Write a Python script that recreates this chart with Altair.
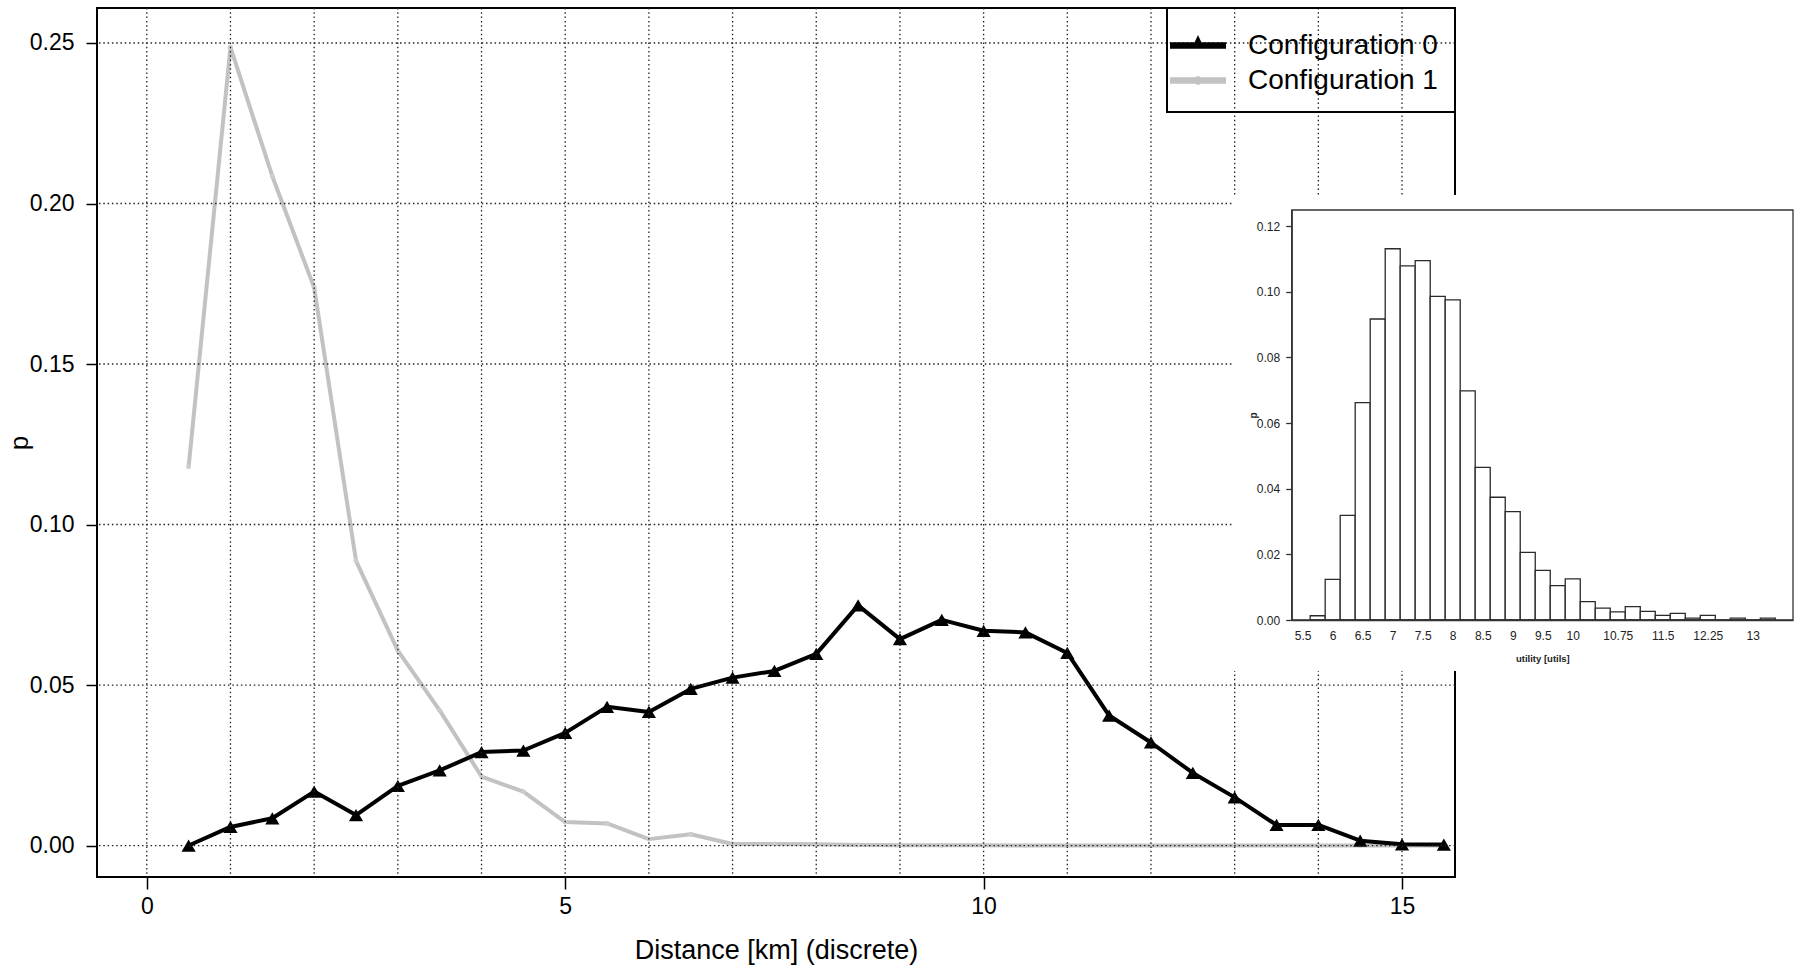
import altair as alt
import pandas as pd

FONT = "Liberation Sans"

# ---------------- main chart data ----------------
distance = [0.5, 1.0, 1.5, 2.0, 2.5, 3.0, 3.5, 4.0, 4.5, 5.0, 5.5, 6.0, 6.5, 7.0, 7.5, 8.0,
            8.5, 9.0, 9.5, 10.0, 10.5, 11.0, 11.5, 12.0, 12.5, 13.0, 13.5, 14.0, 14.5, 15.0, 15.5]
config0 = [0.0000, 0.0058, 0.0085, 0.0168, 0.0095, 0.0186, 0.0234, 0.0291, 0.0296, 0.0351, 0.0432,
           0.0416, 0.0488, 0.0523, 0.0544, 0.0597, 0.0748, 0.0643, 0.0703, 0.0669, 0.0664, 0.0600,
           0.0405, 0.0321, 0.0226, 0.0150, 0.0064, 0.0064, 0.0015, 0.0004, 0.0003]
config1 = [0.1180, 0.2487, 0.2085, 0.1738, 0.0887, 0.0607, 0.0421, 0.0215, 0.0168, 0.0073, 0.0069,
           0.0020, 0.0035, 0.0005, 0.0005, 0.0004, 0.0002, 0.0001, 0.0001, 0.0001, 0.0000, 0.0000,
           0.0000, 0.0000, 0.0000, 0.0000, 0.0000, 0.0000, 0.0000, 0.0000, 0.0000]
series_names = ["Configuration 0", "Configuration 1"]
series_colors = ["#000000", "#c2c2c2"]

main_x_ticks = [0, 5, 10, 15]
main_y_ticks = [0.00, 0.05, 0.10, 0.15, 0.20, 0.25]
grid_x = [0, 1, 2, 3, 4, 5, 6, 7, 8, 9, 10, 11, 12, 13, 14, 15]
grid_y = [0.00, 0.05, 0.10, 0.15, 0.20, 0.25]

# ---------------- inset histogram data ----------------
util_bin_start = [5.625, 5.875, 6.125, 6.375, 6.625, 6.875, 7.125, 7.375, 7.625, 7.875, 8.125,
                  8.375, 8.625, 8.875, 9.125, 9.375, 9.625, 9.875, 10.125, 10.375, 10.625,
                  10.875, 11.125, 11.375, 11.625, 11.875, 12.125, 12.375, 12.625, 12.875, 13.125]
util_p = [0.0013, 0.0124, 0.0319, 0.0662, 0.0917, 0.1131, 0.1079, 0.1095, 0.0986, 0.0975, 0.0698,
          0.0465, 0.0374, 0.0330, 0.0206, 0.0151, 0.0105, 0.0125, 0.0056, 0.0036, 0.0025,
          0.0041, 0.0026, 0.0014, 0.0020, 0.0006, 0.0014, 0.0000, 0.0006, 0.0000, 0.0006]
util_bin_width = 0.25
util_ticks = [5.5, 6, 6.5, 7, 7.5, 8, 8.5, 9, 9.5, 10, 10.75, 11.5, 12.25, 13]
inset_y_ticks = [0.00, 0.02, 0.04, 0.06, 0.08, 0.10, 0.12]

# ---------------- layout (pixels) ----------------
PAD_L, PAD_T, PAD_R, PAD_B = 97, 8, 349, 91
W, H = 1358, 869
X_DOM = [-0.595, 15.633]
Y_DOM = [-0.0098, 0.2609]
IX_DOM = [5.317, 13.67]
IY_DOM = [0.0, 0.1249]
IX_RANGE = [1194.7, 1696.0]
IY_RANGE = [612, 202]

rows = []
for name, vals in zip(series_names, [config0, config1]):
    for d, v in zip(distance, vals):
        rows.append({"distance": d, "p": v, "series": name})
main_df = pd.DataFrame(rows)

x_main = alt.X(
    "distance:Q",
    scale=alt.Scale(domain=X_DOM, nice=False, zero=False),
    axis=alt.Axis(values=main_x_ticks, format="d", title="Distance [km] (discrete)", grid=False,
                  domain=False, tickSize=12, tickColor="black", tickWidth=1.5,
                  labelFont=FONT, labelFontSize=23, labelColor="black", labelPadding=6,
                  titleFont=FONT, titleFontSize=27, titleFontWeight="normal", titleColor="black",
                  titlePadding=19),
)
y_main = alt.Y(
    "p:Q",
    scale=alt.Scale(domain=Y_DOM, nice=False, zero=False),
    axis=alt.Axis(values=main_y_ticks, format=".2f", title="p", grid=False, domain=False,
                  tickSize=11, tickColor="black", tickWidth=1.5,
                  labelFont=FONT, labelFontSize=23, labelColor="black", labelPadding=12,
                  titleFont=FONT, titleFontSize=26, titleFontWeight="normal", titleColor="black",
                  titleX=-78, titleBaseline="middle"),
)

# legend symbols: thick line with the series marker on it (first move-to only sets the entry height)
P0 = ("M0,-1.29 M-2,-0.24L2,-0.24L2,0.24L-2,0.24Z "
      "M-0.25,-0.22L0,-0.75L0.25,-0.22Z")
P1 = ("M0,-1.29 M-2,-0.24L2,-0.24L2,0.24L-2,0.24Z "
      "M0.32,0L0.226,0.226L0,0.32L-0.226,0.226L-0.32,0L-0.226,-0.226L0,-0.32L0.226,-0.226Z")

legend = alt.Legend(
    title="\u00a0", titleFontSize=1, titlePadding=5.5,
    orient="top-right", offset=0, padding=17,
    strokeColor="black",
    labelFont=FONT, labelFontSize=28, labelColor="black", labelOffset=36, labelLimit=400,
    symbolSize=784, symbolStrokeWidth=0, symbolOpacity=1, rowPadding=2,
)

base = alt.Chart(main_df).encode(x=x_main, y=y_main)
sel0 = alt.datum.series == series_names[0]
sel1 = alt.datum.series == series_names[1]

line1 = base.transform_filter(sel1).mark_line(color=series_colors[1], strokeWidth=4, strokeJoin="round")
pts1 = base.transform_filter(sel1).mark_point(filled=True, opacity=1, shape="circle", size=24,
                                               color="#cdcdcd")
line0 = base.transform_filter(sel0).mark_line(color=series_colors[0], strokeWidth=4, strokeJoin="round")
pts0 = base.transform_filter(sel0).mark_point(filled=True, opacity=1, shape="triangle-up", size=200,
                                               color=series_colors[0])

legend_layer = base.mark_point(filled=True, opacity=1, size=0).encode(
    color=alt.Color("series:N", scale=alt.Scale(domain=series_names, range=series_colors), legend=legend),
    shape=alt.Shape("series:N", scale=alt.Scale(domain=series_names, range=[P0, P1]), legend=legend),
)

grid_dash = [1.5, 2.8]
vgrid = alt.Chart(pd.DataFrame({"gx": grid_x})).mark_rule(
    color="#222222", strokeWidth=1.3, strokeDash=grid_dash
).encode(x="gx:Q")
hgrid = alt.Chart(pd.DataFrame({"gy": grid_y})).mark_rule(
    color="#222222", strokeWidth=1.3, strokeDash=grid_dash
).encode(y="gy:Q")

main_layer = alt.layer(line1, pts1, line0, pts0, vgrid, hgrid, legend_layer)

# ---------------- inset ----------------
inset_df = pd.DataFrame({"u0": util_bin_start, "p": util_p})
inset_df["u1"] = inset_df["u0"] + util_bin_width

x_inset_scale = alt.Scale(domain=IX_DOM, range=IX_RANGE, nice=False, zero=False)
y_inset_scale = alt.Scale(domain=IY_DOM, range=IY_RANGE, nice=False, zero=False)

x_inset = alt.X(
    "u0:Q", scale=x_inset_scale,
    axis=alt.Axis(orient="bottom", offset=-(H - IY_RANGE[0]), values=util_ticks, zindex=2,
                  labelExpr="'' + datum.value", ticks=False, grid=False,
                  domainColor="#333333", domainWidth=1.3, labelOverlap=False, labelFlush=False,
                  labelFont=FONT, labelFontSize=12, labelColor="#222222", labelPadding=10,
                  title="utility [utils]", titleFont=FONT, titleFontSize=9.5, titleFontWeight="bold",
                  titleColor="#222222", titlePadding=12),
)
y_inset = alt.Y(
    "p:Q", scale=y_inset_scale,
    axis=alt.Axis(orient="left", offset=-IX_RANGE[0], values=inset_y_ticks, format=".2f", grid=False,
                  zindex=2,
                  domainColor="#333333", domainWidth=1.3, tickSize=6, tickColor="#333333", tickWidth=1.3,
                  labelFont=FONT, labelFontSize=12, labelColor="#222222", labelPadding=6,
                  title="p", titleFont=FONT, titleFontSize=10, titleFontWeight="bold",
                  titleColor="#222222", titleX=-38.5, titleBaseline="middle"),
)

inset_bg = alt.Chart(alt.Data(values=[{"k": 1}])).mark_rect(fill="white", strokeWidth=0).encode(
    x=alt.value(1135), x2=alt.value(1707), y=alt.value(187), y2=alt.value(663)
)
bars = alt.Chart(inset_df).mark_rect(fill="white", stroke="#2a2a2a", strokeWidth=1.3).encode(
    x=x_inset, x2="u1:Q", y=y_inset, y2=alt.datum(0)
)
frame = alt.Chart(alt.Data(values=[{"k": 1}])).mark_rect(fill=None, stroke="#333333", strokeWidth=1.3).encode(
    x=alt.datum(IX_DOM[0], scale=x_inset_scale), x2=alt.datum(IX_DOM[1]),
    y=alt.datum(IY_DOM[0], scale=y_inset_scale), y2=alt.datum(IY_DOM[1]),
)
inset_layer = alt.layer(inset_bg, bars, frame)

chart = alt.layer(main_layer, inset_layer).resolve_scale(
    x="independent", y="independent"
).properties(
    width=W, height=H,
    autosize=alt.AutoSizeParams(type="none"),
    padding={"left": PAD_L, "top": PAD_T, "right": PAD_R, "bottom": PAD_B},
    background="white",
).configure_view(stroke="black", strokeWidth=2).configure_legend(strokeWidth=2)

chart.save("out.html", embed_options={"renderer": "svg", "actions": False})
